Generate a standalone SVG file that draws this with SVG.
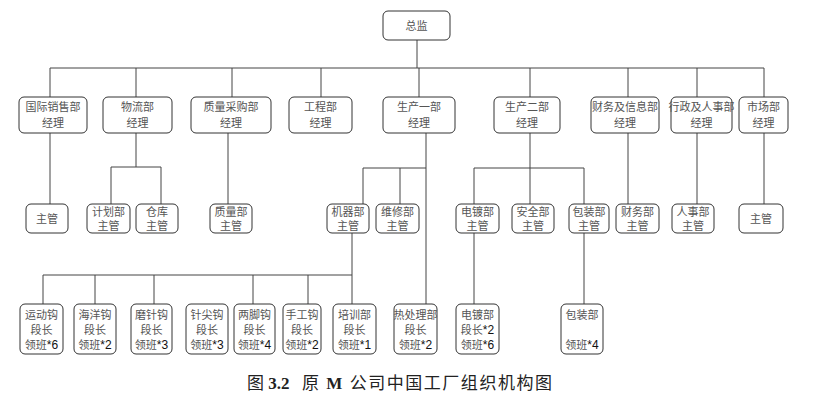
<svg xmlns="http://www.w3.org/2000/svg" width="817" height="403" viewBox="0 0 817 403">
<style>
.b{fill:#fff;stroke:#333;stroke-width:1}
.t{font-family:"Noto Sans CJK SC","Liberation Sans",sans-serif;font-size:11px;fill:#555;text-anchor:middle}
.n{font-family:"Liberation Sans",sans-serif;font-size:12px;fill:#111}
.c{fill:none;stroke:#444;stroke-width:1}
.cap{font-family:"Liberation Serif","Noto Sans CJK SC",serif;font-size:17px;fill:#222}
</style>
<rect width="817" height="403" fill="#fff"/>
<g id="connectors" class="c">
<path d="M417,40V68M50,68H764M50,68V97M136,68V97M232,68V97M321,68V97M419,68V97M530,68V97M628,68V97M697,68V97M764,68V97"/>
<path d="M50,133V204M136,133V167M111,167H161M111,167V204M161,167V204M228,133V204"/>
<path d="M426,133V304M363,168H426M363,168V204M400,168V204"/>
<path d="M352,233V304M43,275H352M43,275V304M95,275V304M154,275V304M253,275V304M308,275V304"/>
<path d="M530,133V204M474,168H584M474,168V204M584,168V204M474,233V304M584,233V304"/>
<path d="M628,133V204M697,133V204M764,133V204"/>
</g>
<g id="n0"><rect class="b" x="383" y="11" width="67" height="29" rx="5"/><text class="t" x="416.5" y="30">总监</text></g>
<g id="n1"><rect class="b" x="19" y="97" width="68" height="36" rx="5"/><text class="t" x="53" y="111">国际销售部</text><text class="t" x="53" y="127">经理</text></g>
<g id="n2"><rect class="b" x="103" y="97" width="69" height="36" rx="5"/><text class="t" x="137.5" y="111">物流部</text><text class="t" x="137.5" y="127">经理</text></g>
<g id="n3"><rect class="b" x="191" y="97" width="80" height="36" rx="5"/><text class="t" x="231" y="111">质量采购部</text><text class="t" x="231" y="127">经理</text></g>
<g id="n4"><rect class="b" x="289" y="97" width="63" height="36" rx="5"/><text class="t" x="320.5" y="111">工程部</text><text class="t" x="320.5" y="127">经理</text></g>
<g id="n5"><rect class="b" x="383" y="97" width="72" height="36" rx="5"/><text class="t" x="419" y="111">生产一部</text><text class="t" x="419" y="127">经理</text></g>
<g id="n6"><rect class="b" x="494" y="97" width="66" height="36" rx="5"/><text class="t" x="527" y="111">生产二部</text><text class="t" x="527" y="127">经理</text></g>
<g id="n7"><rect class="b" x="591" y="97" width="68" height="36" rx="5"/><text class="t" x="625" y="111">财务及信息部</text><text class="t" x="625" y="127">经理</text></g>
<g id="n8"><rect class="b" x="671" y="97" width="61" height="36" rx="5"/><text class="t" x="701.5" y="111">行政及人事部</text><text class="t" x="701.5" y="127">经理</text></g>
<g id="n9"><rect class="b" x="739" y="97" width="49" height="36" rx="5"/><text class="t" x="763.5" y="111">市场部</text><text class="t" x="763.5" y="127">经理</text></g>
<g id="m1"><rect class="b" x="26" y="204" width="42" height="29" rx="5"/><text class="t" x="47" y="222.5">主管</text></g>
<g id="m2"><rect class="b" x="87" y="204" width="43" height="29" rx="5"/><text class="t" x="108.5" y="215.5">计划部</text><text class="t" x="108.5" y="230">主管</text></g>
<g id="m3"><rect class="b" x="136" y="204" width="42" height="29" rx="5"/><text class="t" x="157" y="215.5">仓库</text><text class="t" x="157" y="230">主管</text></g>
<g id="m4"><rect class="b" x="210" y="204" width="42" height="29" rx="5"/><text class="t" x="231" y="215.5">质量部</text><text class="t" x="231" y="230">主管</text></g>
<g id="m5"><rect class="b" x="327" y="204" width="42" height="29" rx="5"/><text class="t" x="348" y="215.5">机器部</text><text class="t" x="348" y="230">主管</text></g>
<g id="m6"><rect class="b" x="376" y="204" width="43" height="29" rx="5"/><text class="t" x="397.5" y="215.5">维修部</text><text class="t" x="397.5" y="230">主管</text></g>
<g id="m7"><rect class="b" x="456" y="204" width="43" height="29" rx="5"/><text class="t" x="477.5" y="215.5">电镀部</text><text class="t" x="477.5" y="230">主管</text></g>
<g id="m8"><rect class="b" x="512" y="204" width="42" height="29" rx="5"/><text class="t" x="533" y="215.5">安全部</text><text class="t" x="533" y="230">主管</text></g>
<g id="m9"><rect class="b" x="569" y="204" width="40" height="29" rx="5"/><text class="t" x="589" y="215.5">包装部</text><text class="t" x="589" y="230">主管</text></g>
<g id="m10"><rect class="b" x="616" y="204" width="43" height="29" rx="5"/><text class="t" x="637.5" y="215.5">财务部</text><text class="t" x="637.5" y="230">主管</text></g>
<g id="m11"><rect class="b" x="672" y="204" width="42" height="29" rx="5"/><text class="t" x="693" y="215.5">人事部</text><text class="t" x="693" y="230">主管</text></g>
<g id="m12"><rect class="b" x="739" y="204" width="44" height="29" rx="5"/><text class="t" x="761" y="222.5">主管</text></g>
<g id="s1"><rect class="b" x="20" y="304" width="43" height="50" rx="5"/><text class="t" x="41.5" y="319">运动钩</text><text class="t" x="41.5" y="334">段长</text><text class="t" x="41.5" y="349">领班<tspan class="n">*6</tspan></text></g>
<g id="s2"><rect class="b" x="74" y="304" width="42" height="50" rx="5"/><text class="t" x="95" y="319">海洋钩</text><text class="t" x="95" y="334">段长</text><text class="t" x="95" y="349">领班<tspan class="n">*2</tspan></text></g>
<g id="s3"><rect class="b" x="131" y="304" width="41" height="50" rx="5"/><text class="t" x="151.5" y="319">磨针钩</text><text class="t" x="151.5" y="334">段长</text><text class="t" x="151.5" y="349">领班<tspan class="n">*3</tspan></text></g>
<g id="s4"><rect class="b" x="186" y="304" width="42" height="50" rx="5"/><text class="t" x="207" y="319">针尖钩</text><text class="t" x="207" y="334">段长</text><text class="t" x="207" y="349">领班<tspan class="n">*3</tspan></text></g>
<g id="s5"><rect class="b" x="234" y="304" width="41" height="50" rx="5"/><text class="t" x="254.5" y="319">两脚钩</text><text class="t" x="254.5" y="334">段长</text><text class="t" x="254.5" y="349">领班<tspan class="n">*4</tspan></text></g>
<g id="s6"><rect class="b" x="283" y="304" width="38" height="50" rx="5"/><text class="t" x="302" y="319">手工钩</text><text class="t" x="302" y="334">段长</text><text class="t" x="302" y="349">领班<tspan class="n">*2</tspan></text></g>
<g id="s7"><rect class="b" x="333" y="304" width="43" height="50" rx="5"/><text class="t" x="354.5" y="319">培训部</text><text class="t" x="354.5" y="334">段长</text><text class="t" x="354.5" y="349">领班<tspan class="n">*1</tspan></text></g>
<g id="s8"><rect class="b" x="394" y="304" width="43" height="50" rx="5"/><text class="t" x="415.5" y="319">热处理部</text><text class="t" x="415.5" y="334">段长</text><text class="t" x="415.5" y="349">领班<tspan class="n">*2</tspan></text></g>
<g id="s9"><rect class="b" x="456" y="304" width="43" height="50" rx="5"/><text class="t" x="477.5" y="319">电镀部</text><text class="t" x="477.5" y="334">段长<tspan class="n">*2</tspan></text><text class="t" x="477.5" y="349">领班<tspan class="n">*6</tspan></text></g>
<g id="s10"><rect class="b" x="561" y="304" width="42" height="50" rx="5"/><text class="t" x="582" y="319">包装部</text><text class="t" x="582" y="349">领班<tspan class="n">*4</tspan></text></g>
<g id="caption">
<text class="cap" x="247" y="389">图 <tspan font-weight="bold">3.2</tspan></text>
<text class="cap" x="302" y="389" textLength="250" lengthAdjust="spacing">原 <tspan font-weight="bold">M</tspan> 公司中国工厂组织机构图</text>
</g>
</svg>
